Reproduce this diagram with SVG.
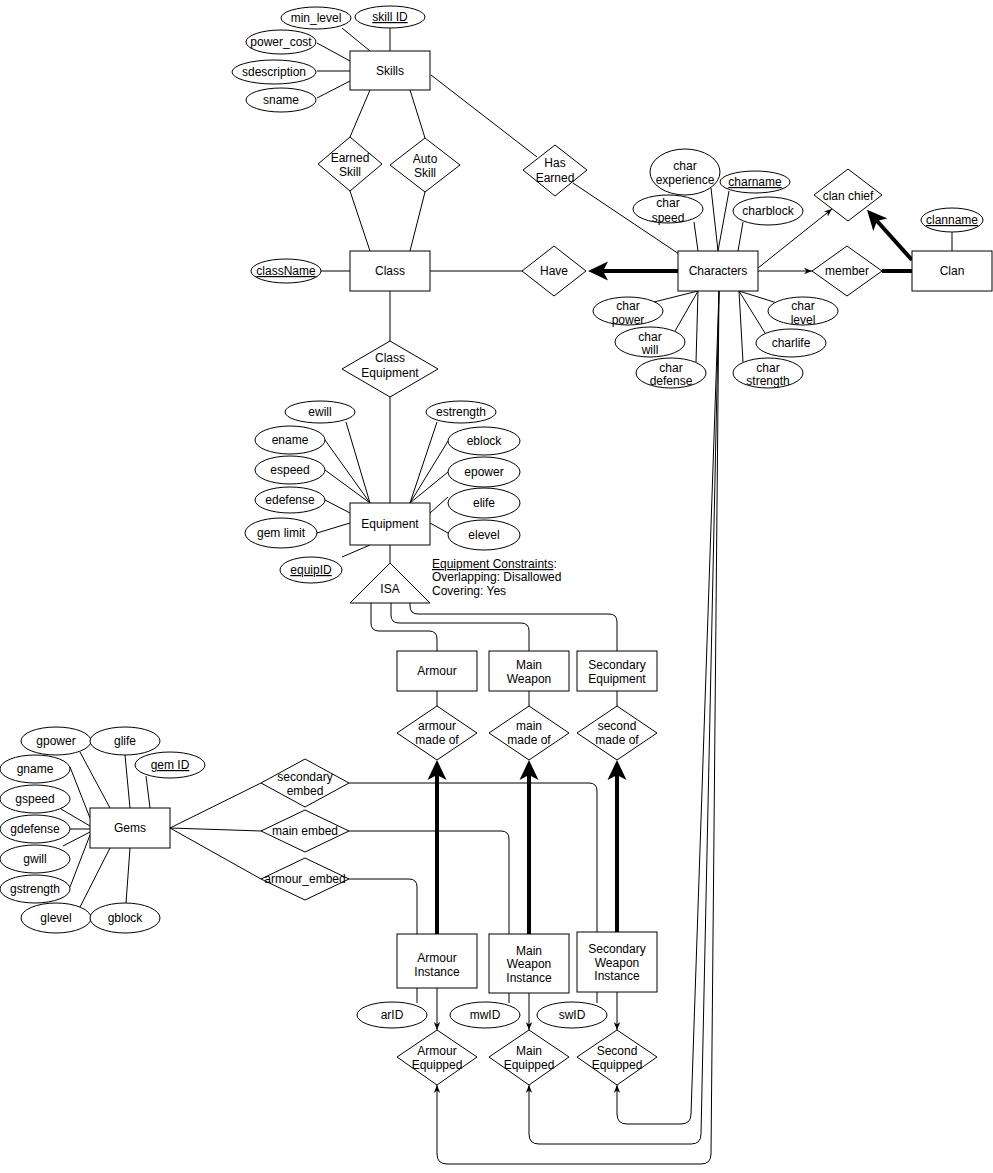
<svg xmlns="http://www.w3.org/2000/svg" width="993" height="1173" viewBox="0 0 993 1173">
<style>
.t{font-family:"Liberation Sans",Arial,sans-serif;font-size:12px;text-anchor:middle;fill:#000}
.l{font-family:"Liberation Sans",Arial,sans-serif;font-size:12px;text-anchor:start;fill:#000}
.u{text-decoration:underline}
.s{fill:#fff;stroke:#000;stroke-width:1}
.c{fill:none;stroke:#000;stroke-width:1}
.k{fill:none;stroke:#000;stroke-width:4}
</style>
<defs>
<marker id="arr" viewBox="0 0 10 10" refX="10" refY="5" markerWidth="8" markerHeight="8" markerUnits="userSpaceOnUse" orient="auto"><path d="M0,1 L10,5 L0,9 L3,5 Z" fill="#000"/></marker>
<marker id="big" viewBox="0 0 20 20" refX="5" refY="10" markerWidth="20" markerHeight="20" markerUnits="userSpaceOnUse" orient="auto"><path d="M0,0.5 L20,10 L0,19.5 L5,10 Z" fill="#000"/></marker>
</defs>
<rect width="993" height="1173" fill="#fff"/>
<g id="connectors">
<!-- Skills attributes -->
<line class="c" x1="342" y1="28" x2="370" y2="51"/>
<line class="c" x1="390" y1="28" x2="390" y2="51"/>
<line class="c" x1="317" y1="43" x2="350" y2="61"/>
<line class="c" x1="317" y1="71" x2="350" y2="71"/>
<line class="c" x1="317" y1="98" x2="350" y2="81"/>
<!-- Skills / Class -->
<line class="c" x1="370" y1="90" x2="350" y2="137"/>
<line class="c" x1="350" y1="191" x2="370" y2="251"/>
<line class="c" x1="410" y1="90" x2="425" y2="138"/>
<line class="c" x1="425" y1="192" x2="410" y2="251"/>
<line class="c" x1="431" y1="75" x2="537" y2="157"/>
<line class="c" x1="573" y1="183" x2="679" y2="254"/>
<line class="c" x1="321" y1="271" x2="350" y2="271"/>
<line class="c" x1="430" y1="271" x2="522" y2="271"/>
<line class="k" x1="678" y1="271" x2="603" y2="271" marker-end="url(#big)"/>
<line class="c" x1="758" y1="271" x2="812" y2="271" marker-end="url(#arr)"/>
<line class="c" x1="758" y1="268" x2="832" y2="209" marker-end="url(#arr)"/>
<line class="k" x1="882" y1="271" x2="912" y2="271"/>
<line class="k" x1="912" y1="260" x2="877" y2="221" marker-end="url(#big)"/>
<line class="c" x1="952" y1="232" x2="952" y2="251"/>
<!-- Characters attributes -->
<line class="c" x1="711" y1="188" x2="718" y2="251"/>
<line class="c" x1="729" y1="191" x2="718" y2="251"/>
<line class="c" x1="694" y1="222" x2="698" y2="251"/>
<line class="c" x1="743" y1="222" x2="738" y2="251"/>
<line class="c" x1="654" y1="302" x2="698" y2="291"/>
<line class="c" x1="675" y1="331" x2="698" y2="291"/>
<line class="c" x1="696" y1="362" x2="698" y2="291"/>
<line class="c" x1="777" y1="303" x2="739" y2="291"/>
<line class="c" x1="765" y1="333" x2="739" y2="291"/>
<line class="c" x1="743" y1="362" x2="739" y2="291"/>
<!-- Class / Equipment -->
<line class="c" x1="390" y1="291" x2="390" y2="341"/>
<line class="c" x1="390" y1="397" x2="390" y2="503"/>
<line class="c" x1="346" y1="422" x2="370" y2="503"/>
<line class="c" x1="325" y1="440" x2="370" y2="503"/>
<line class="c" x1="325" y1="470" x2="370" y2="503"/>
<line class="c" x1="325" y1="500" x2="350" y2="513"/>
<line class="c" x1="317" y1="533" x2="350" y2="523"/>
<line class="c" x1="342" y1="557" x2="370" y2="545"/>
<line class="c" x1="437" y1="422" x2="410" y2="503"/>
<line class="c" x1="448" y1="441" x2="410" y2="503"/>
<line class="c" x1="448" y1="472" x2="410" y2="503"/>
<line class="c" x1="448" y1="497" x2="430" y2="513"/>
<line class="c" x1="448" y1="533" x2="430" y2="523"/>
<line class="c" x1="390" y1="545" x2="390" y2="563"/>
<!-- ISA branches -->
<path class="c" d="M371,603 L371,623 Q371,631 379,631 L429,631 Q437,631 437,639 L437,651"/>
<path class="c" d="M391,603 L391,615 Q391,623 399,623 L521,623 Q529,623 529,631 L529,651"/>
<path class="c" d="M410,603 L410,606 Q410,614 418,614 L609,614 Q617,614 617,622 L617,651"/>
<line class="c" x1="437" y1="691" x2="437" y2="706"/>
<line class="c" x1="529" y1="691" x2="529" y2="706"/>
<line class="c" x1="617" y1="691" x2="617" y2="706"/>
<!-- Gems attributes -->
<line class="c" x1="80" y1="752" x2="110" y2="808"/>
<line class="c" x1="125" y1="755" x2="130" y2="808"/>
<line class="c" x1="146" y1="776" x2="150" y2="808"/>
<line class="c" x1="70" y1="767" x2="90" y2="818"/>
<line class="c" x1="61" y1="809" x2="90" y2="826"/>
<line class="c" x1="70" y1="829" x2="90" y2="829"/>
<line class="c" x1="63" y1="846" x2="90" y2="832"/>
<line class="c" x1="70" y1="887" x2="90" y2="835"/>
<line class="c" x1="80" y1="907" x2="110" y2="848"/>
<line class="c" x1="126" y1="903" x2="130" y2="848"/>
<!-- Gems / embed -->
<line class="c" x1="170" y1="828" x2="261" y2="783"/>
<line class="c" x1="170" y1="828" x2="261" y2="831"/>
<line class="c" x1="170" y1="828" x2="261" y2="879"/>
<path class="c" d="M349,783 L589,783 Q597,783 597,791 L597,932"/>
<path class="c" d="M349,831 L501,831 Q509,831 509,839 L509,934"/>
<path class="c" d="M349,879 L409,879 Q417,879 417,887 L417,934"/>
<!-- made of -->
<line class="k" x1="437" y1="934" x2="437" y2="775" marker-end="url(#big)"/>
<line class="k" x1="529" y1="934" x2="529" y2="775" marker-end="url(#big)"/>
<line class="k" x1="617" y1="932" x2="617" y2="775" marker-end="url(#big)"/>
<!-- IDs -->
<line class="c" x1="417" y1="988" x2="417" y2="1003"/>
<line class="c" x1="509" y1="993" x2="509" y2="1003"/>
<line class="c" x1="597" y1="992" x2="597" y2="1003"/>
<!-- equipped -->
<line class="c" x1="437" y1="988" x2="437" y2="1030" marker-end="url(#arr)"/>
<line class="c" x1="529" y1="993" x2="529" y2="1030" marker-end="url(#arr)"/>
<line class="c" x1="617" y1="992" x2="617" y2="1030" marker-end="url(#arr)"/>
<path class="c" d="M719,291 L691,1114 Q691,1124 681,1124 L627,1124 Q617,1124 617,1114 L617,1085" marker-end="url(#arr)"/>
<path class="c" d="M719,291 L701,1134 Q701,1144 691,1144 L539,1144 Q529,1144 529,1134 L529,1085" marker-end="url(#arr)"/>
<path class="c" d="M719,291 L711,1154 Q711,1164 701,1164 L447,1164 Q437,1164 437,1154 L437,1085" marker-end="url(#arr)"/>
</g>

<g id="skills"><rect class="s" x="350" y="51" width="80" height="39"/><text class="t" x="390" y="75">Skills</text></g>
<g id="min_level"><ellipse class="s" cx="316" cy="18" rx="35" ry="11"/><text class="t" x="316" y="22">min_level</text></g>
<g id="skill_id"><ellipse class="s" cx="390" cy="17" rx="35" ry="11"/><text class="t u" x="390" y="21">skill ID</text></g>
<g id="power_cost"><ellipse class="s" cx="281" cy="42" rx="35" ry="12"/><text class="t" x="281" y="46">power_cost</text></g>
<g id="sdescription"><ellipse class="s" cx="274" cy="72" rx="42" ry="12"/><text class="t" x="274" y="76">sdescription</text></g>
<g id="sname"><ellipse class="s" cx="281" cy="100" rx="35" ry="12"/><text class="t" x="281" y="104">sname</text></g>

<g id="earned_skill"><polygon class="s" points="350,137 382,164 350,191 318,164"/><text class="t" x="350" y="162">Earned</text><text class="t" x="350" y="176">Skill</text></g>
<g id="auto_skill"><polygon class="s" points="425,138 460,165 425,192 390,165"/><text class="t" x="425" y="163">Auto</text><text class="t" x="425" y="177">Skill</text></g>
<g id="has_earned"><polygon class="s" points="555,145 587,170 555,196 523,170"/><text class="t" x="555" y="167">Has</text><text class="t" x="555" y="182">Earned</text></g>

<g id="class"><rect class="s" x="350" y="251" width="80" height="40"/><text class="t" x="390" y="275">Class</text></g>
<g id="classname"><ellipse class="s" cx="286" cy="271" rx="35" ry="12"/><text class="t u" x="286" y="275">className</text></g>
<g id="have"><polygon class="s" points="554,246 586,271 554,296 522,271"/><text class="t" x="554" y="275">Have</text></g>

<g id="characters"><rect class="s" x="678" y="251" width="80" height="40"/><text class="t" x="718" y="275">Characters</text></g>
<g id="char_experience"><ellipse class="s" cx="685" cy="172" rx="35" ry="23"/><text class="t" x="685" y="170">char</text><text class="t" x="685" y="184">experience</text></g>
<g id="charname"><ellipse class="s" cx="755" cy="182" rx="35" ry="11"/><text class="t u" x="755" y="186">charname</text></g>
<g id="char_speed"><ellipse class="s" cx="668" cy="209" rx="35" ry="14"/><text class="t" x="668" y="207">char</text><text class="t" x="668" y="222">speed</text></g>
<g id="charblock"><ellipse class="s" cx="768" cy="211" rx="35" ry="14"/><text class="t" x="768" y="215">charblock</text></g>
<g id="char_power"><ellipse class="s" cx="628" cy="311" rx="35" ry="14"/><text class="t" x="628" y="310">char</text><text class="t" x="628" y="324">power</text></g>
<g id="char_will"><ellipse class="s" cx="650" cy="342" rx="35" ry="15"/><text class="t" x="650" y="341">char</text><text class="t" x="650" y="354">will</text></g>
<g id="char_defense"><ellipse class="s" cx="671" cy="373" rx="35" ry="15"/><text class="t" x="671" y="372">char</text><text class="t" x="671" y="385">defense</text></g>
<g id="char_level"><ellipse class="s" cx="803" cy="311" rx="35" ry="14"/><text class="t" x="803" y="310">char</text><text class="t" x="803" y="324">level</text></g>
<g id="charlife"><ellipse class="s" cx="791" cy="343" rx="35" ry="14"/><text class="t" x="791" y="347">charlife</text></g>
<g id="char_strength"><ellipse class="s" cx="768" cy="373" rx="35" ry="15"/><text class="t" x="768" y="372">char</text><text class="t" x="768" y="385">strength</text></g>

<g id="member"><polygon class="s" points="847,246 882,271 847,296 812,271"/><text class="t" x="847" y="275">member</text></g>
<g id="clan_chief"><polygon class="s" points="848,169 882,195 848,221 814,195"/><text class="t" x="848" y="200">clan chief</text></g>
<g id="clan"><rect class="s" x="912" y="251" width="80" height="40"/><text class="t" x="952" y="275">Clan</text></g>
<g id="clanname"><ellipse class="s" cx="952" cy="220" rx="31" ry="12"/><text class="t u" x="952" y="224">clanname</text></g>

<g id="class_equipment"><polygon class="s" points="390,341 438,369 390,397 342,369"/><text class="t" x="390" y="362">Class</text><text class="t" x="390" y="377">Equipment</text></g>

<g id="equipment"><rect class="s" x="350" y="503" width="80" height="42"/><text class="t" x="390" y="528">Equipment</text></g>
<g id="ewill"><ellipse class="s" cx="320" cy="412" rx="35" ry="11"/><text class="t" x="320" y="416">ewill</text></g>
<g id="ename"><ellipse class="s" cx="290" cy="440" rx="35" ry="14"/><text class="t" x="290" y="444">ename</text></g>
<g id="espeed"><ellipse class="s" cx="290" cy="470" rx="35" ry="14"/><text class="t" x="290" y="474">espeed</text></g>
<g id="edefense"><ellipse class="s" cx="290" cy="500" rx="35" ry="13"/><text class="t" x="290" y="504">edefense</text></g>
<g id="gem_limit"><ellipse class="s" cx="281" cy="533" rx="36" ry="15"/><text class="t" x="281" y="537">gem limit</text></g>
<g id="equipid"><ellipse class="s" cx="311" cy="570" rx="31" ry="13"/><text class="t u" x="311" y="574">equipID</text></g>
<g id="estrength"><ellipse class="s" cx="461" cy="412" rx="35" ry="11"/><text class="t" x="461" y="416">estrength</text></g>
<g id="eblock"><ellipse class="s" cx="484" cy="441" rx="36" ry="14"/><text class="t" x="484" y="445">eblock</text></g>
<g id="epower"><ellipse class="s" cx="484" cy="472" rx="36" ry="15"/><text class="t" x="484" y="476">epower</text></g>
<g id="elife"><ellipse class="s" cx="484" cy="503" rx="36" ry="15"/><text class="t" x="484" y="507">elife</text></g>
<g id="elevel"><ellipse class="s" cx="484" cy="535" rx="36" ry="15"/><text class="t" x="484" y="539">elevel</text></g>

<g id="isa"><polygon class="s" points="390,563 430,603 350,603"/><text class="t" x="390" y="593">ISA</text></g>
<g id="constraints"><text class="l" x="432" y="568"><tspan class="u">Equipment Constraints</tspan>:</text><text class="l" x="432" y="581">Overlapping: Disallowed</text><text class="l" x="432" y="595">Covering: Yes</text></g>

<g id="armour"><rect class="s" x="397" y="651" width="80" height="40"/><text class="t" x="437" y="675">Armour</text></g>
<g id="main_weapon"><rect class="s" x="489" y="651" width="80" height="40"/><text class="t" x="529" y="669">Main</text><text class="t" x="529" y="683">Weapon</text></g>
<g id="secondary_equipment"><rect class="s" x="577" y="651" width="80" height="40"/><text class="t" x="617" y="669">Secondary</text><text class="t" x="617" y="683">Equipment</text></g>

<g id="armour_made_of"><polygon class="s" points="437,706 477,733 437,760 397,733"/><text class="t" x="437" y="730">armour</text><text class="t" x="437" y="744">made of</text></g>
<g id="main_made_of"><polygon class="s" points="529,706 569,733 529,760 489,733"/><text class="t" x="529" y="730">main</text><text class="t" x="529" y="744">made of</text></g>
<g id="second_made_of"><polygon class="s" points="617,706 657,733 617,760 577,733"/><text class="t" x="617" y="730">second</text><text class="t" x="617" y="744">made of</text></g>

<g id="gems"><rect class="s" x="90" y="808" width="80" height="40"/><text class="t" x="130" y="832">Gems</text></g>
<g id="gpower"><ellipse class="s" cx="56" cy="741" rx="35" ry="14"/><text class="t" x="56" y="745">gpower</text></g>
<g id="glife"><ellipse class="s" cx="125" cy="741" rx="35" ry="14"/><text class="t" x="125" y="745">glife</text></g>
<g id="gem_id"><ellipse class="s" cx="170" cy="765" rx="35" ry="13"/><text class="t u" x="170" y="769">gem ID</text></g>
<g id="gname"><ellipse class="s" cx="35" cy="769" rx="35" ry="14"/><text class="t" x="35" y="773">gname</text></g>
<g id="gspeed"><ellipse class="s" cx="35" cy="799" rx="35" ry="14"/><text class="t" x="35" y="803">gspeed</text></g>
<g id="gdefense"><ellipse class="s" cx="35" cy="829" rx="35" ry="14"/><text class="t" x="35" y="833">gdefense</text></g>
<g id="gwill"><ellipse class="s" cx="35" cy="859" rx="35" ry="14"/><text class="t" x="35" y="863">gwill</text></g>
<g id="gstrength"><ellipse class="s" cx="35" cy="889" rx="35" ry="14"/><text class="t" x="35" y="893">gstrength</text></g>
<g id="glevel"><ellipse class="s" cx="56" cy="918" rx="35" ry="15"/><text class="t" x="56" y="922">glevel</text></g>
<g id="gblock"><ellipse class="s" cx="125" cy="918" rx="35" ry="15"/><text class="t" x="125" y="922">gblock</text></g>

<g id="secondary_embed"><polygon class="s" points="305,759 349,783 305,807 261,783"/><text class="t" x="305" y="781">secondary</text><text class="t" x="305" y="795">embed</text></g>
<g id="main_embed"><polygon class="s" points="305,810 349,831 305,852 261,831"/><text class="t" x="305" y="835">main embed</text></g>
<g id="armour_embed"><polygon class="s" points="305,858 349,879 305,900 261,879"/><text class="t" x="305" y="883">armour_embed</text></g>

<g id="armour_instance"><rect class="s" x="397" y="934" width="80" height="54"/><text class="t" x="437" y="962">Armour</text><text class="t" x="437" y="976">Instance</text></g>
<g id="main_weapon_instance"><rect class="s" x="489" y="934" width="80" height="59"/><text class="t" x="529" y="955">Main</text><text class="t" x="529" y="968">Weapon</text><text class="t" x="529" y="982">Instance</text></g>
<g id="secondary_weapon_instance"><rect class="s" x="577" y="932" width="80" height="60"/><text class="t" x="617" y="953">Secondary</text><text class="t" x="617" y="967">Weapon</text><text class="t" x="617" y="980">Instance</text></g>

<g id="arid"><ellipse class="s" cx="392" cy="1015" rx="35" ry="13"/><text class="t" x="392" y="1019">arID</text></g>
<g id="mwid"><ellipse class="s" cx="485" cy="1015" rx="35" ry="13"/><text class="t" x="485" y="1019">mwID</text></g>
<g id="swid"><ellipse class="s" cx="572" cy="1015" rx="35" ry="13"/><text class="t" x="572" y="1019">swID</text></g>

<g id="armour_equipped"><polygon class="s" points="437,1030 477,1057 437,1085 397,1057"/><text class="t" x="437" y="1055">Armour</text><text class="t" x="437" y="1069">Equipped</text></g>
<g id="main_equipped"><polygon class="s" points="529,1030 569,1057 529,1085 489,1057"/><text class="t" x="529" y="1055">Main</text><text class="t" x="529" y="1069">Equipped</text></g>
<g id="second_equipped"><polygon class="s" points="617,1030 657,1057 617,1085 577,1057"/><text class="t" x="617" y="1055">Second</text><text class="t" x="617" y="1069">Equipped</text></g>
</svg>
